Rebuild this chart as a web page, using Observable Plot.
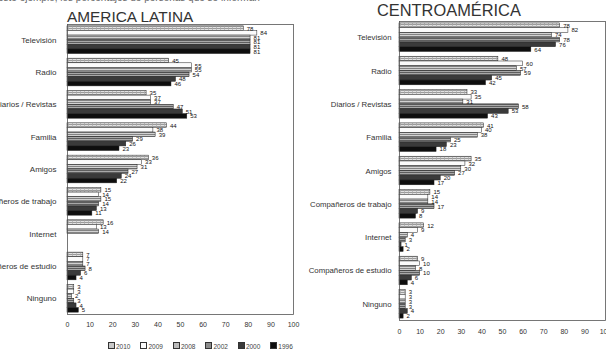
<!DOCTYPE html>
<html><head><meta charset="utf-8">
<script src="https://cdn.jsdelivr.net/npm/d3@7"></script>
<script src="https://cdn.jsdelivr.net/npm/@observablehq/plot@0.6"></script>
<style>
html,body{margin:0;padding:0;background:#fff;}
#root{position:relative;width:606px;height:352px;overflow:hidden;font-family:"Liberation Sans",Arial,sans-serif;}
.abs{position:absolute;}
.title{color:#333;line-height:15px;white-space:nowrap;}
#legend span.sw{display:inline-block;width:5px;height:5px;border:0.6px solid #333;vertical-align:-0.5px;margin-right:1px;}
#legend span.it{margin-right:10px;}
</style></head><body>
<div id="root">
<svg width="0" height="0" style="position:absolute;left:0;top:0"><defs>
<pattern id="p2010" width="4" height="2" patternUnits="userSpaceOnUse"><rect width="4" height="2" fill="#e2e2e2"/><rect width="4" height="0.8" fill="#8a8a8a"/><rect width="0.7" height="2" fill="#aaa"/></pattern>
<pattern id="p2009" width="4" height="2" patternUnits="userSpaceOnUse"><rect width="4" height="2" fill="#fbfbfb"/></pattern>
<pattern id="p2008" width="4" height="2" patternUnits="userSpaceOnUse"><rect width="4" height="2" fill="#d2d2d2"/><rect width="4" height="0.9" fill="#7a7a7a"/></pattern>
<pattern id="p2002" width="4" height="2" patternUnits="userSpaceOnUse"><rect width="4" height="2" fill="#a8a8a8"/><rect width="4" height="0.9" fill="#555"/></pattern>
</defs></svg>
<div class="abs" style="left:-2px;top:-8px;font-size:10px;color:#666;white-space:nowrap">este ejemplo, los porcentajes de personas que se informan</div>
<div class="abs title" style="left:67px;top:9px;font-size:15.4px">AMERICA LATINA</div>
<div class="abs title" style="left:377px;top:3px;font-size:16.4px">CENTROAMÉRICA</div>
<div id="left" class="abs" style="left:-40px;top:0;width:340px;height:335px"></div>
<div id="right" class="abs" style="left:300px;top:0;width:320px;height:352px"></div>
<div id="legend" class="abs" style="left:108px;top:342px;font-size:6.5px;color:#444;white-space:nowrap"></div>
</div>
<script>
const years = ["2010", "2009", "2008", "2002", "2000", "1996"];
const categories = ["Televisión", "Radio", "Diarios / Revistas", "Familia", "Amigos",
  "Compañeros de trabajo", "Internet", "Compañeros de estudio", "Ninguno"];
const xTicks = [0, 10, 20, 30, 40, 50, 60, 70, 80, 90, 100];

// América Latina: values per category, in year order 2010, 2009, 2008, 2002, 2000, 1996
const alTelevision = [78, 84, 81, 81, 81, 81];
const alRadio = [45, 55, 55, 54, 48, 46];
const alDiarios = [35, 37, 37, 47, 51, 53];
const alFamilia = [44, 38, 39, 29, 26, 23];
const alAmigos = [36, 33, 31, 27, 24, 22];
const alTrabajo = [15, 14, 15, 14, 13, 11];
const alInternet = [16, 13, 14, null, null, null];
const alEstudio = [7, 7, 7, 8, 6, 4];
const alNinguno = [3, 3, 2, 3, 4, 5];

// Centroamérica
const caTelevision = [78, 82, 74, 78, 76, 64];
const caRadio = [48, 60, 57, 59, 45, 42];
const caDiarios = [33, 35, 31, 58, 53, 43];
const caFamilia = [41, 40, 38, 25, 23, 18];
const caAmigos = [35, 32, 30, 27, 20, 17];
const caTrabajo = [15, 14, 14, 17, 9, 8];
const caInternet = [12, 9, 4, 3, 1, 2];
const caEstudio = [9, 10, 8, 10, 6, 4];
const caNinguno = [3, 3, 3, 3, 4, 2];

const fills = ["url(#p2010)", "url(#p2009)", "url(#p2008)", "url(#p2002)", "#3a3a3a", "#0e0e0e"];
const swatch = ["#c8c8c8", "#fbfbfb", "#bbbbbb", "#8c8c8c", "#3a3a3a", "#0e0e0e"];

function toRows(series) {
  const rows = [];
  categories.forEach((c, i) => {
    years.forEach((y, j) => {
      rows.push({cat: c, year: y, key: c + "|" + y, value: series[i][j]});
    });
  });
  return rows;
}

function chart(series, o) {
  const rows = toRows(series);
  const domain = [];
  categories.forEach((c, i) => {
    if (i) domain.push("gap" + i);
    years.forEach(y => domain.push(c + "|" + y));
  });
  const po = 0.4;
  const bw = (o.height - o.mt - o.mb) / (domain.length + 2 * po);
  const valid = rows.filter(d => d.value != null);
  return Plot.plot({
    width: o.width, height: o.height,
    marginTop: o.mt, marginBottom: o.mb, marginLeft: o.ml, marginRight: o.mr,
    style: {fontFamily: '"Liberation Sans", Arial, sans-serif', fontSize: "7px", color: "#333", background: "transparent", overflow: "visible", maxWidth: "none"},
    x: {domain: [0, 100], ticks: xTicks, tickSize: 0, tickPadding: o.tp, label: null, tickFormat: d => String(d)},
    y: {domain, axis: null, paddingInner: 0, paddingOuter: po},
    marks: [
      ...years.map((yr, j) => Plot.barX(valid.filter(d => d.year === yr), {
        x: "value", y: "key", fill: fills[j], stroke: "#222", strokeWidth: 0.5
      })),
      Plot.text(valid, {x: "value", y: "key", text: d => String(d.value), dx: 3, textAnchor: "start", fontSize: 6, fill: "#111"}),
      Plot.text(categories, {x: 0, y: c => c + "|2002", dy: -bw / 2, dx: -o.ld, textAnchor: "end", text: d => d, fontSize: o.lf, fill: "#333"}),
      Plot.frame({stroke: "#555", strokeWidth: 0.8})
    ]
  });
}

const alSeries = [alTelevision, alRadio, alDiarios, alFamilia, alAmigos, alTrabajo, alInternet, alEstudio, alNinguno];
const caSeries = [caTelevision, caRadio, caDiarios, caFamilia, caAmigos, caTrabajo, caInternet, caEstudio, caNinguno];

document.getElementById("left").appendChild(chart(alSeries, {width: 340, height: 335, mt: 24, mb: 21, ml: 107, mr: 7, tp: 8, lf: 8, ld: 11}));
document.getElementById("right").appendChild(chart(caSeries, {width: 320, height: 352, mt: 21, mb: 32, ml: 99, mr: 15, tp: 9, lf: 7.8, ld: 8}));

document.getElementById("legend").innerHTML = years.map((y, j) =>
  `<span class="it"><span class="sw" style="background:${swatch[j]}"></span>${y}</span>`).join("");
</script>
</body></html>
